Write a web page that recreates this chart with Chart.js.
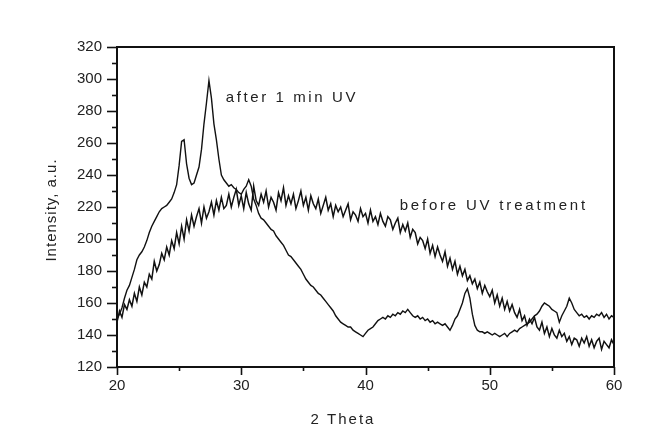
<!DOCTYPE html>
<html>
<head>
<meta charset="utf-8">
<script src="https://cdn.jsdelivr.net/npm/chart.js@4.4.1/dist/chart.umd.min.js"></script>
<style>
html,body{margin:0;padding:0;background:#fff;}
canvas{display:block;}
</style>
</head>
<body>
<canvas id="c" width="665" height="433"></canvas>
<script>
// 2-theta sampling: start and step (degrees)
const thetaStart = 20;
const thetaStep = 0.2;

// Intensity after 1 min UV (values every 0.2 deg from 20 to 60)
const afterUV = [
150,153,157,163,168,171,176,181,187,190,
192,195,199,204,208,211,214,217,219,220,
221,223,225,229,234,246,261,262,247,238,
234,235,240,245,256,272,285,299,288,272,
262,250,240,237,235,233,234,232,231,229,
228,231,233,237,233,225,221,216,213,212,
210,208,206,205,202,200,198,196,193,190,
189,187,185,183,181,178,175,173,171,170,
168,166,165,163,161,159,157,155,152,150,
148,147,146,145,145,143,142,141,140,139,
141,143,144,145,147,149,150,151,150,152,
151,153,152,154,153,155,154,156,154,152,
151,152,150,151,149,150,148,149,147,148,
147,146,147,145,143,146,150,152,156,160,
166,169,163,153,146,143,142,142,141,142,
141,140,141,140,139,140,141,139,141,142,
143,142,144,145,146,147,148,150,152,153,
155,158,160,159,158,156,155,154,148,152,
155,158,163,160,156,154,152,153,151,152,
150,152,151,153,152,154,151,153,150,152,
151
];

// Intensity before UV treatment (values every 0.2 deg from 20 to 60)
const beforeUV = [
148,155,151,159,156,162,158,166,161,170,
165,173,170,178,175,186,180,184,191,187,
195,190,199,194,204,197,208,200,212,205,
215,208,214,219,210,220,213,217,223,215,
224,218,226,219,221,228,220,226,231,221,
227,219,229,222,218,233,224,221,228,223,
230,220,226,223,218,229,224,232,221,227,
222,228,219,224,230,221,226,218,227,222,
219,225,216,221,226,218,222,214,221,217,
220,214,218,222,212,217,215,211,219,214,
216,210,218,211,214,209,216,211,208,214,
212,206,210,213,204,209,205,210,201,206,
204,197,201,199,194,200,191,196,189,195,
190,186,192,183,188,181,186,178,183,177,
181,174,177,172,175,169,173,166,171,167,
164,168,160,165,158,163,156,161,155,159,
154,151,156,149,152,146,150,147,151,145,
143,148,141,145,139,144,140,138,143,139,
141,136,139,134,138,137,133,138,135,139,
133,137,132,136,138,131,136,134,132,137,
134
];

const xTicks = [20, 30, 40, 50, 60];
const yTicks = [120, 140, 160, 180, 200, 220, 240, 260, 280, 300, 320];
const xTitle = '2 Theta';
const yTitle = 'Intensity, a.u.';
const annotations = [
  { text: 'after 1 min UV', x: 28.75, y: 288 },
  { text: 'before UV treatment', x: 42.75, y: 221 }
];

function toPoints(arr) {
  return arr.map((v, i) => ({ x: thetaStart + i * thetaStep, y: v }));
}

const decor = {
  id: 'decor',
  afterDraw(chart) {
    const ctx = chart.ctx;
    const xs = chart.scales.x, ys = chart.scales.y;
    const a = chart.chartArea;
    ctx.save();
    ctx.strokeStyle = '#111';
    ctx.lineWidth = 2;
    ctx.strokeRect(a.left, a.top, a.right - a.left, a.bottom - a.top);
    ctx.lineWidth = 1.6;
    for (let v = yTicks[0]; v <= yTicks[yTicks.length - 1]; v += 10) {
      const py = Math.round(ys.getPixelForValue(v)) + 0.5;
      const len = (v % 20 === 0) ? 10 : 5;
      ctx.beginPath(); ctx.moveTo(a.left - len, py); ctx.lineTo(a.left, py); ctx.stroke();
    }
    for (let v = xTicks[0]; v <= xTicks[xTicks.length - 1]; v += 5) {
      const px = Math.round(xs.getPixelForValue(v)) + 0.5;
      const len = (v % 10 === 0) ? 8 : 4;
      ctx.beginPath(); ctx.moveTo(px, a.bottom); ctx.lineTo(px, a.bottom + len); ctx.stroke();
    }
    ctx.fillStyle = '#222';
    ctx.font = '15px "Liberation Sans", Arial, sans-serif';
    ctx.textBaseline = 'middle';
    ctx.textAlign = 'center';
    ctx.letterSpacing = '2px';
    ctx.fillText(xTitle, 343, 420);
    ctx.save();
    ctx.translate(52, 210);
    ctx.rotate(-Math.PI / 2);
    ctx.letterSpacing = '1px';
    ctx.fillText(yTitle, 0, 0);
    ctx.restore();
    ctx.textAlign = 'left';
    annotations.forEach((an, i) => {
      ctx.letterSpacing = i === 0 ? '2.6px' : '2.8px';
      ctx.fillText(an.text, xs.getPixelForValue(an.x), ys.getPixelForValue(an.y));
    });
    ctx.restore();
  }
};

new Chart(document.getElementById('c'), {
  type: 'line',
  data: {
    datasets: [
      { label: 'after 1 min UV', data: toPoints(afterUV), borderColor: '#111', borderWidth: 1.4, pointRadius: 0, tension: 0, fill: false },
      { label: 'before UV treatment', data: toPoints(beforeUV), borderColor: '#111', borderWidth: 1.5, pointRadius: 0, tension: 0, fill: false }
    ]
  },
  options: {
    responsive: false,
    devicePixelRatio: 1,
    animation: false,
    layout: { padding: { top: 47, right: 51, left: 0, bottom: 0 } },
    plugins: { legend: { display: false }, tooltip: { enabled: false } },
    scales: {
      x: {
        type: 'linear', min: 20, max: 60,
        afterFit(s) { s.height = 66; },
        afterBuildTicks(s) { s.ticks = xTicks.map(v => ({ value: v })); },
        grid: { display: false, drawTicks: false },
        border: { display: false },
        ticks: { padding: 10, color: '#222', font: { family: '"Liberation Sans", Arial, sans-serif', size: 15 }, maxRotation: 0 }
      },
      y: {
        type: 'linear', min: 120, max: 320,
        afterFit(s) { s.width = 117; },
        afterBuildTicks(s) { s.ticks = yTicks.map(v => ({ value: v })); },
        grid: { display: false, drawTicks: false },
        border: { display: false },
        ticks: { padding: 15, color: '#222', font: { family: '"Liberation Sans", Arial, sans-serif', size: 15 } }
      }
    }
  },
  plugins: [decor]
});
</script>
</body>
</html>
